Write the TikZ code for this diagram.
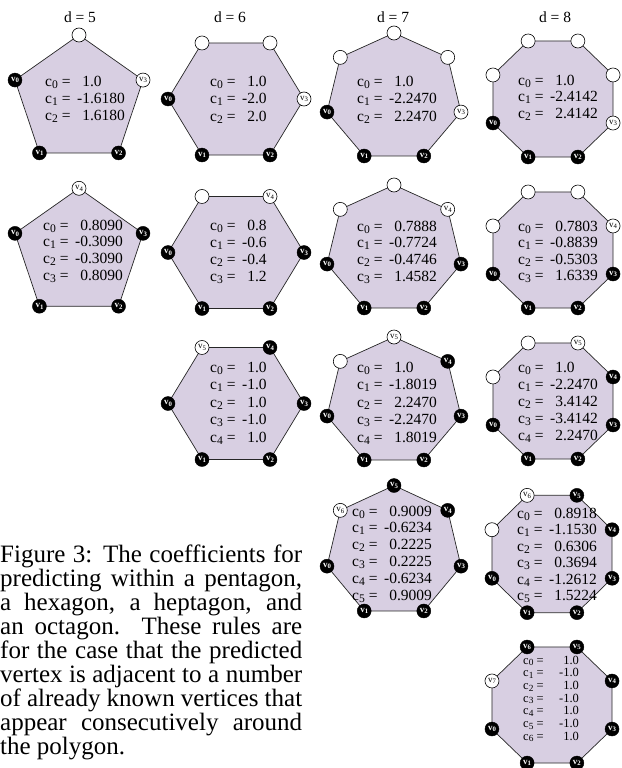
\documentclass[tikz,border=0pt]{standalone}
\usepackage{fontspec}
\setmainfont{Liberation Serif}
\definecolor{polyfill}{RGB}{216,207,226}
\newcommand\sbs[1]{\raisebox{-0.3ex}{\scalebox{0.75}{#1}}}
\newcommand\vlab[1]{v\raisebox{-0.35ex}{\scalebox{0.75}{#1}}}
\newcommand\pos{\phantom{-}}

\tikzset{
  polyshape/.style={fill=polyfill, draw=black!85, line width=0.7pt},
  known/.style={circle, fill=black, draw=black, minimum size=14pt, inner sep=0pt,
    text=white, font=\fontsize{9}{9}\selectfont\bfseries},
  target/.style={circle, fill=white, draw=black, line width=0.6pt, minimum size=14pt,
    inner sep=0pt, font=\fontsize{9}{9}\selectfont},
  unknown/.style={target},
  coef/.style={inner sep=0pt, anchor=base west},
  dlabel/.style={font=\fontsize{15.5}{15.5}\selectfont, inner sep=0pt, anchor=base},
  caption/.style={font=\fontsize{25}{25}\selectfont, inner sep=0pt, anchor=base west},
}

% #1 name, #2 sides, #3 cx, #4 cy, #5 Rx, #6 Ry, #7 angle of v0, #8 known vertices
\newcommand\polyg[8]{%
  \pgfmathtruncatemacro\plast{#2-1}%
  \foreach \k in {0,...,\plast}{%
    \coordinate (#1-p\k) at ({#3+#5*cos(#7+\k*360/#2)},{#4-#6*sin(#7+\k*360/#2)});
  }%
  \path[polyshape] (#1-p0) \foreach \k in {1,...,\plast}{ -- (#1-p\k) } -- cycle;
  \foreach \k in {0,...,\plast}{%
    \ifnum\k<#8\relax
      \node[known] (#1-v\k) at (#1-p\k) {\vlab{\k}};
    \else\ifnum\k=#8\relax
      \node[target] (#1-v\k) at (#1-p\k) {\vlab{\k}};
    \else
      \node[unknown] (#1-v\k) at (#1-p\k) {};
    \fi\fi
  }%
}

% #1 name, #2 x, #3 first baseline, #4 line step, #5 font size, #6 offset of the values, #7 values
\newcommand\coefs[7]{%
  \foreach \val [count=\k from 0] in {#7}{%
    \node[coef, font=\fontsize{#5}{#5}\selectfont] (#1-c\k) at (#2,{#3+\k*#4})
      {\makebox[#6pt][l]{c\sbs{\k} =}\val};
  }%
}

\begin{document}
\begin{tikzpicture}[x=1pt,y=-1pt]
\useasboundingbox (0,0) rectangle (621,768);

% column headings
\node[dlabel] (d5) at (80,23) {d = 5};
\node[dlabel] (d6) at (230,23) {d = 6};
\node[dlabel] (d7) at (393,23) {d = 7};
\node[dlabel] (d8) at (555,23) {d = 8};

% pentagons
\polyg{P1}{5}{79}{100.2}{67.3}{65.2}{162}{3}
\coefs{P1}{45}{86}{17}{15.5}{32}{\pos1.0,-1.6180,\pos1.6180}
\polyg{P2}{5}{79}{253.5}{67.3}{65.2}{162}{4}
\coefs{P2}{43}{230}{16.7}{15.5}{32}{\pos0.8090,-0.3090,-0.3090,\pos0.8090}

% hexagons
\polyg{H1}{6}{236}{99}{68}{64.7}{180}{3}
\coefs{H1}{210}{86}{17.5}{15.5}{32}{\pos1.0,-2.0,\pos2.0}
\polyg{H2}{6}{236}{252.5}{68}{64.7}{180}{4}
\coefs{H2}{210}{230}{17}{15.5}{32}{\pos0.8,-0.6,-0.4,\pos1.2}
\polyg{H3}{6}{236}{403.5}{68}{64.7}{180}{5}
\coefs{H3}{210}{372}{17.5}{15.5}{32}{\pos1.0,-1.0,\pos1.0,-1.0,\pos1.0}

% heptagons
\polyg{S1}{7}{394}{97.7}{68.7}{64.7}{192.857}{3}
\coefs{S1}{357}{86}{17.5}{15.5}{32}{\pos1.0,-2.2470,\pos2.2470}
\polyg{S2}{7}{394}{249.7}{68.7}{64.7}{192.857}{4}
\coefs{S2}{357}{231}{16.7}{15.5}{32}{\pos0.7888,-0.7724,-0.4746,\pos1.4582}
\polyg{S3}{7}{394}{401.7}{68.7}{64.7}{192.857}{5}
\coefs{S3}{357}{372}{17.5}{15.5}{32}{\pos1.0,-1.8019,\pos2.2470,-2.2470,\pos1.8019}
\polyg{S4}{7}{394}{551.5}{68.7}{66}{192.857}{6}
\coefs{S4}{352}{516}{16.8}{15.5}{32}{\pos0.9009,-0.6234,\pos0.2225,\pos0.2225,-0.6234,\pos0.9009}

% octagons
\polyg{O1}{8}{553}{99}{65}{62.8}{202.5}{3}
\coefs{O1}{518}{85}{16.5}{15.5}{32}{\pos1.0,-2.4142,\pos2.4142}
\polyg{O2}{8}{553}{250}{65}{62.8}{202.5}{4}
\coefs{O2}{518}{231}{16.5}{15.5}{32}{\pos0.7803,-0.8839,-0.5303,\pos1.6339}
\polyg{O3}{8}{553}{401}{65}{62.8}{202.5}{5}
\coefs{O3}{518}{372}{17.2}{15.5}{32}{\pos1.0,-2.2470,\pos3.4142,-3.4142,\pos2.2470}
\polyg{O4}{8}{552}{554}{65}{63.5}{202.5}{6}
\coefs{O4}{517}{518}{16.5}{15.5}{32}{\pos0.8918,-1.1530,\pos0.6306,\pos0.3694,-1.2612,\pos1.5224}
\polyg{O5}{8}{552}{705}{65}{62.8}{202.5}{7}
\coefs{O5}{523}{664}{12.7}{12.5}{36}{\pos1.0,-1.0,\pos1.0,-1.0,\pos1.0,-1.0,\pos1.0}

% caption
\node[caption] (cap1) at (0,562) {\makebox[302pt][s]{Figure 3: The coefficients for}};
\node[caption] (cap2) at (0,586.1) {\makebox[302pt][s]{predicting within a pentagon,}};
\node[caption] (cap3) at (0,610.2) {\makebox[302pt][s]{a hexagon, a heptagon, and}};
\node[caption] (cap4) at (0,634.3) {\makebox[302pt][s]{an octagon.\ \ These rules are}};
\node[caption] (cap5) at (0,658.4) {\makebox[302pt][s]{for the case that the predicted}};
\node[caption] (cap6) at (0,682.5) {\makebox[302pt][s]{vertex is adjacent to a number}};
\node[caption] (cap7) at (0,706.6) {\makebox[302pt][s]{of already known vertices that}};
\node[caption] (cap8) at (0,730.7) {\makebox[302pt][s]{appear consecutively around}};
\node[caption] (cap9) at (0,754.8) {the polygon.};
\end{tikzpicture}
\end{document}
